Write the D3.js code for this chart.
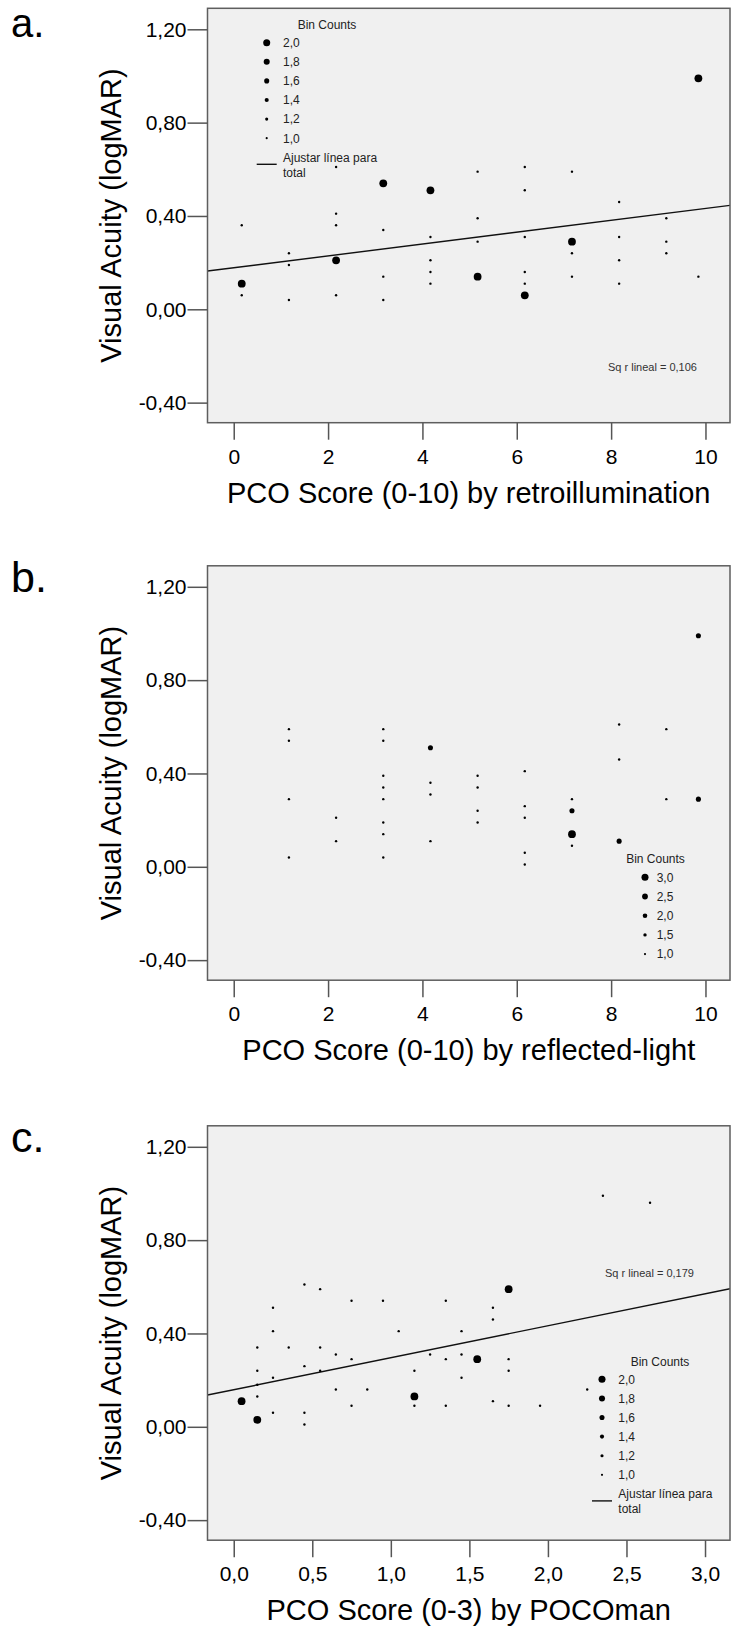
<!DOCTYPE html>
<html>
<head>
<meta charset="utf-8">
<script src="https://cdn.jsdelivr.net/npm/d3@7/dist/d3.min.js"></script>
<style>
  html, body { margin: 0; padding: 0; background: #fff; }
  svg { display: block; font-family: "Liberation Sans", Arial, sans-serif; }
</style>
</head>
<body>
<svg id="chart" width="731" height="1633"></svg>
<script>
// ---------- DATA ----------
const yTickValues = [-0.4, 0, 0.4, 0.8, 1.2];
const yTickLabels = ["-0,40", "0,00", "0,40", "0,80", "1,20"];
const xTickValuesAB = [0, 2, 4, 6, 8, 10];
const xTickLabelsAB = ["0", "2", "4", "6", "8", "10"];
const xTickValuesC = [0, 0.5, 1, 1.5, 2, 2.5, 3];
const xTickLabelsC = ["0,0", "0,5", "1,0", "1,5", "2,0", "2,5", "3,0"];

// Panel a: PCO score by retroillumination
const aX = [0.17,0.17,0.17, 1.17,1.17,1.17, 2.17,2.17,2.17,2.17,2.17, 3.17,3.17,3.17,3.17,
            4.17,4.17,4.17,4.17,4.17, 5.17,5.17,5.17,5.17, 6.17,6.17,6.17,6.17,6.17,6.17,
            7.17,7.17,7.17,7.17, 8.17,8.17,8.17,8.17, 9.17,9.17,9.17, 9.85,9.85];
const aY = [0.11,0.06,0.36, 0.24,0.19,0.04, 0.61,0.41,0.36,0.21,0.06, 0.54,0.34,0.14,0.04,
            0.51,0.31,0.21,0.16,0.11, 0.59,0.39,0.29,0.14, 0.61,0.51,0.31,0.16,0.11,0.06,
            0.59,0.29,0.24,0.14, 0.46,0.31,0.21,0.11, 0.39,0.29,0.24, 0.99,0.14];
const aCount = [2,1,1, 1,1,1, 1,1,1,2,1, 2,1,1,1, 2,1,1,1,1, 1,1,1,2, 1,1,1,1,1,2,
                1,2,1,1, 1,1,1,1, 1,1,1, 2,1];
const aFit = [0.178, 0.0254];          // intercept, slope
const aRsq = "Sq r lineal = 0,106";
const aLegendCounts = ["2,0", "1,8", "1,6", "1,4", "1,2", "1,0"];
const aLegendValues = [2.0, 1.8, 1.6, 1.4, 1.2, 1.0];

// Panel b: PCO score by reflected-light
const bX = [1.17,1.17,1.17,1.17, 2.17,2.17, 3.17,3.17,3.17,3.17,3.17,3.17,3.17,3.17,
            4.17,4.17,4.17,4.17, 5.17,5.17,5.17,5.17, 6.17,6.17,6.17,6.17,6.17,
            7.17,7.17,7.17,7.17, 8.17,8.17,8.17, 9.17,9.17, 9.85,9.85];
const bY = [0.59,0.54,0.29,0.04, 0.21,0.11, 0.59,0.54,0.39,0.34,0.29,0.19,0.14,0.04,
            0.51,0.36,0.31,0.11, 0.39,0.34,0.24,0.19, 0.41,0.26,0.21,0.06,0.01,
            0.29,0.24,0.14,0.09, 0.61,0.46,0.11, 0.59,0.29, 0.99,0.29];
const bCount = [1,1,1,1, 1,1, 1,1,1,1,1,1,1,1, 2,1,1,1, 1,1,1,1, 1,1,1,1,1,
                1,2,3,1, 1,1,2, 1,1, 2,2];
const bLegendCounts = ["3,0", "2,5", "2,0", "1,5", "1,0"];
const bLegendValues = [3.0, 2.5, 2.0, 1.5, 1.0];

// Panel c: PCO score by POCOman
const cX = [0.05, 0.15,0.15,0.15,0.15,0.15, 0.25,0.25,0.25,0.25, 0.35, 0.45,0.45,0.45,0.45,
            0.55,0.55,0.55, 0.65,0.65, 0.75,0.75,0.75, 0.85, 0.95, 1.05, 1.15,1.15,1.15,
            1.25, 1.35,1.35,1.35, 1.45,1.45,1.45, 1.55, 1.65,1.65,1.65, 1.75,1.75,1.75,1.75,
            1.95, 2.25, 2.35, 2.65];
const cY = [0.11, 0.03,0.34,0.24,0.18,0.13, 0.51,0.41,0.21,0.06, 0.34, 0.61,0.26,0.06,0.01,
            0.59,0.34,0.24, 0.31,0.16, 0.54,0.29,0.09, 0.16, 0.54, 0.41, 0.13,0.24,0.09,
            0.31, 0.54,0.29,0.09, 0.41,0.31,0.21, 0.29, 0.51,0.46,0.11, 0.59,0.29,0.24,0.09,
            0.09, 0.16, 0.99, 0.96];
const cCount = [2, 2,1,1,1,1, 1,1,1,1, 1, 1,1,1,1, 1,1,1, 1,1, 1,1,1, 1, 1, 1, 2,1,1,
                1, 1,1,1, 1,1,1, 2, 1,1,1, 2,1,1,1, 1, 1, 1, 1];
const cFit = [0.159, 0.137];
const cRsq = "Sq r lineal = 0,179";
const cLegendCounts = ["2,0", "1,8", "1,6", "1,4", "1,2", "1,0"];
const cLegendValues = [2.0, 1.8, 1.6, 1.4, 1.2, 1.0];

const fitLegendText = ["Ajustar línea para", "total"];
const yTitle = "Visual Acuity (logMAR)";

// ---------- DRAWING ----------
const svg = d3.select("#chart");
svg.append("rect").attr("width", 731).attr("height", 1633).attr("fill", "#fff");

const FONT = '"Liberation Sans", Arial, sans-serif';
const BOX = { x0: 207.5, x1: 730, y0: 8.3, y1: 422.7 };

function drawPanel(p) {
  const g = svg.append("g").attr("transform", `translate(0,${p.offY})`);
  const x = d3.scaleLinear().domain(p.xDomain).range([BOX.x0, BOX.x1]);
  const y = d3.scaleLinear().domain([-0.486, 1.29]).range([BOX.y1, BOX.y0]);
  const maxC = d3.max(p.legendValues);
  const r = d3.scaleLinear().domain([1, maxC]).range([1.2, 3.9]);

  // panel letter
  g.append("text").attr("x", 11).attr("y", p.letterY)
    .attr("font-size", p.letterSize).attr("font-family", FONT).attr("fill", "#000")
    .text(p.letter);

  // plot background
  g.append("rect")
    .attr("x", BOX.x0).attr("y", BOX.y0)
    .attr("width", BOX.x1 - BOX.x0).attr("height", BOX.y1 - BOX.y0)
    .attr("fill", "#f0f0f0");

  const clipId = "clip" + p.letter.replace(".", "");
  g.append("clipPath").attr("id", clipId).append("rect")
    .attr("x", BOX.x0).attr("y", BOX.y0)
    .attr("width", BOX.x1 - BOX.x0).attr("height", BOX.y1 - BOX.y0);

  // fit line
  if (p.fit) {
    const [b0, b1] = p.fit;
    const line = d3.line().x(d => x(d)).y(d => y(b0 + b1 * d));
    g.append("path").datum(p.xDomain)
      .attr("clip-path", `url(#${clipId})`)
      .attr("d", line).attr("fill", "none")
      .attr("stroke", "#111").attr("stroke-width", 1.4);
  }

  // points
  const pts = p.xs.map((v, i) => ({ x: v, y: p.ys[i], c: p.counts[i] }));
  g.append("g").selectAll("circle").data(pts).join("circle")
    .attr("cx", d => x(d.x)).attr("cy", d => y(d.y)).attr("r", d => r(d.c))
    .attr("fill", "#000");

  // box border
  g.append("rect")
    .attr("x", BOX.x0).attr("y", BOX.y0)
    .attr("width", BOX.x1 - BOX.x0).attr("height", BOX.y1 - BOX.y0)
    .attr("fill", "none").attr("stroke", "#5e5e5e").attr("stroke-width", 1.5);

  // y axis
  const yAxis = d3.axisLeft(y).tickValues(yTickValues)
    .tickFormat((d, i) => yTickLabels[i]).tickSize(20).tickPadding(1);
  const ya = g.append("g").attr("transform", `translate(${BOX.x0},0)`).call(yAxis);
  ya.select(".domain").remove();
  ya.selectAll(".tick line").attr("stroke", "#555").attr("stroke-width", 1.5);
  ya.selectAll(".tick text").attr("font-size", 21).attr("font-family", FONT).attr("fill", "#000");

  // x axis
  const xAxis = d3.axisBottom(x).tickValues(p.xTicks)
    .tickFormat((d, i) => p.xLabels[i]).tickSize(17).tickPadding(9);
  const xa = g.append("g").attr("transform", `translate(0,${BOX.y1})`).call(xAxis);
  xa.select(".domain").remove();
  xa.selectAll(".tick line").attr("stroke", "#555").attr("stroke-width", 1.5);
  xa.selectAll(".tick text").attr("font-size", 21).attr("font-family", FONT).attr("fill", "#000");

  // axis titles
  g.append("text").attr("x", (BOX.x0 + BOX.x1) / 2).attr("y", 502.5)
    .attr("text-anchor", "middle").attr("font-size", 29).attr("font-family", FONT)
    .attr("fill", "#000").text(p.xTitle);
  g.append("text")
    .attr("transform", `translate(121,${(BOX.y0 + BOX.y1) / 2}) rotate(-90)`)
    .attr("text-anchor", "middle").attr("font-size", 29).attr("font-family", FONT)
    .attr("fill", "#000").text(yTitle);

  // R squared
  if (p.rsq) {
    g.append("text").attr("x", p.rsqPos[0]).attr("y", p.rsqPos[1])
      .attr("font-size", 11).attr("font-family", FONT).attr("fill", "#333")
      .text(p.rsq);
  }

  // legend
  const L = p.legend;
  const lg = g.append("g");
  lg.append("text").attr("x", L.titleX).attr("y", L.titleY)
    .attr("text-anchor", "middle").attr("font-size", 12).attr("font-family", FONT)
    .attr("fill", "#222").text("Bin Counts");
  p.legendValues.forEach((v, i) => {
    const cy = L.rowY0 + i * L.rowStep;
    lg.append("circle").attr("cx", L.markX).attr("cy", cy).attr("r", r(v) * 0.9).attr("fill", "#000");
    lg.append("text").attr("x", L.textX).attr("y", cy + 4.3)
      .attr("font-size", 12).attr("font-family", FONT).attr("fill", "#222")
      .text(p.legendLabels[i]);
  });
  if (p.fit) {
    const n = p.legendValues.length;
    const ty = L.rowY0 + n * L.rowStep;
    lg.append("line").attr("x1", L.markX - 10).attr("x2", L.markX + 10)
      .attr("y1", ty + 7).attr("y2", ty + 7).attr("stroke", "#111").attr("stroke-width", 1.4);
    fitLegendText.forEach((t, j) => {
      lg.append("text").attr("x", L.textX).attr("y", ty + 4.3 + j * 15)
        .attr("font-size", 12).attr("font-family", FONT).attr("fill", "#222").text(t);
    });
  }
}

drawPanel({
  letter: "a.", letterY: 36.5, letterSize: 40, offY: 0, xDomain: [-0.556, 10.52],
  xTicks: xTickValuesAB, xLabels: xTickLabelsAB,
  xTitle: "PCO Score (0-10) by retroillumination",
  xs: aX, ys: aY, counts: aCount, fit: aFit, rsq: aRsq, rsqPos: [608, 370.5],
  legendValues: aLegendValues, legendLabels: aLegendCounts,
  legend: { titleX: 327, titleY: 29, rowY0: 42.7, rowStep: 19.1, markX: 266.7, textX: 283 }
});

drawPanel({
  letter: "b.", letterY: 34, letterSize: 43, offY: 557.5, xDomain: [-0.556, 10.52],
  xTicks: xTickValuesAB, xLabels: xTickLabelsAB,
  xTitle: "PCO Score (0-10) by reflected-light",
  xs: bX, ys: bY, counts: bCount, fit: null, rsq: null,
  legendValues: bLegendValues, legendLabels: bLegendCounts,
  legend: { titleX: 655.5, titleY: 305.5, rowY0: 319.8, rowStep: 19.2, markX: 645, textX: 656.7 }
});

drawPanel({
  letter: "c.", letterY: 34, letterSize: 43, offY: 1117.5, xDomain: [-0.167, 3.159],
  xTicks: xTickValuesC, xLabels: xTickLabelsC,
  xTitle: "PCO Score (0-3) by POCOman",
  xs: cX, ys: cY, counts: cCount, fit: cFit, rsq: cRsq, rsqPos: [605, 159.2],
  legendValues: cLegendValues, legendLabels: cLegendCounts,
  legend: { titleX: 660, titleY: 248.2, rowY0: 261.8, rowStep: 19.1, markX: 602, textX: 618.3 }
});
</script>
</body>
</html>
